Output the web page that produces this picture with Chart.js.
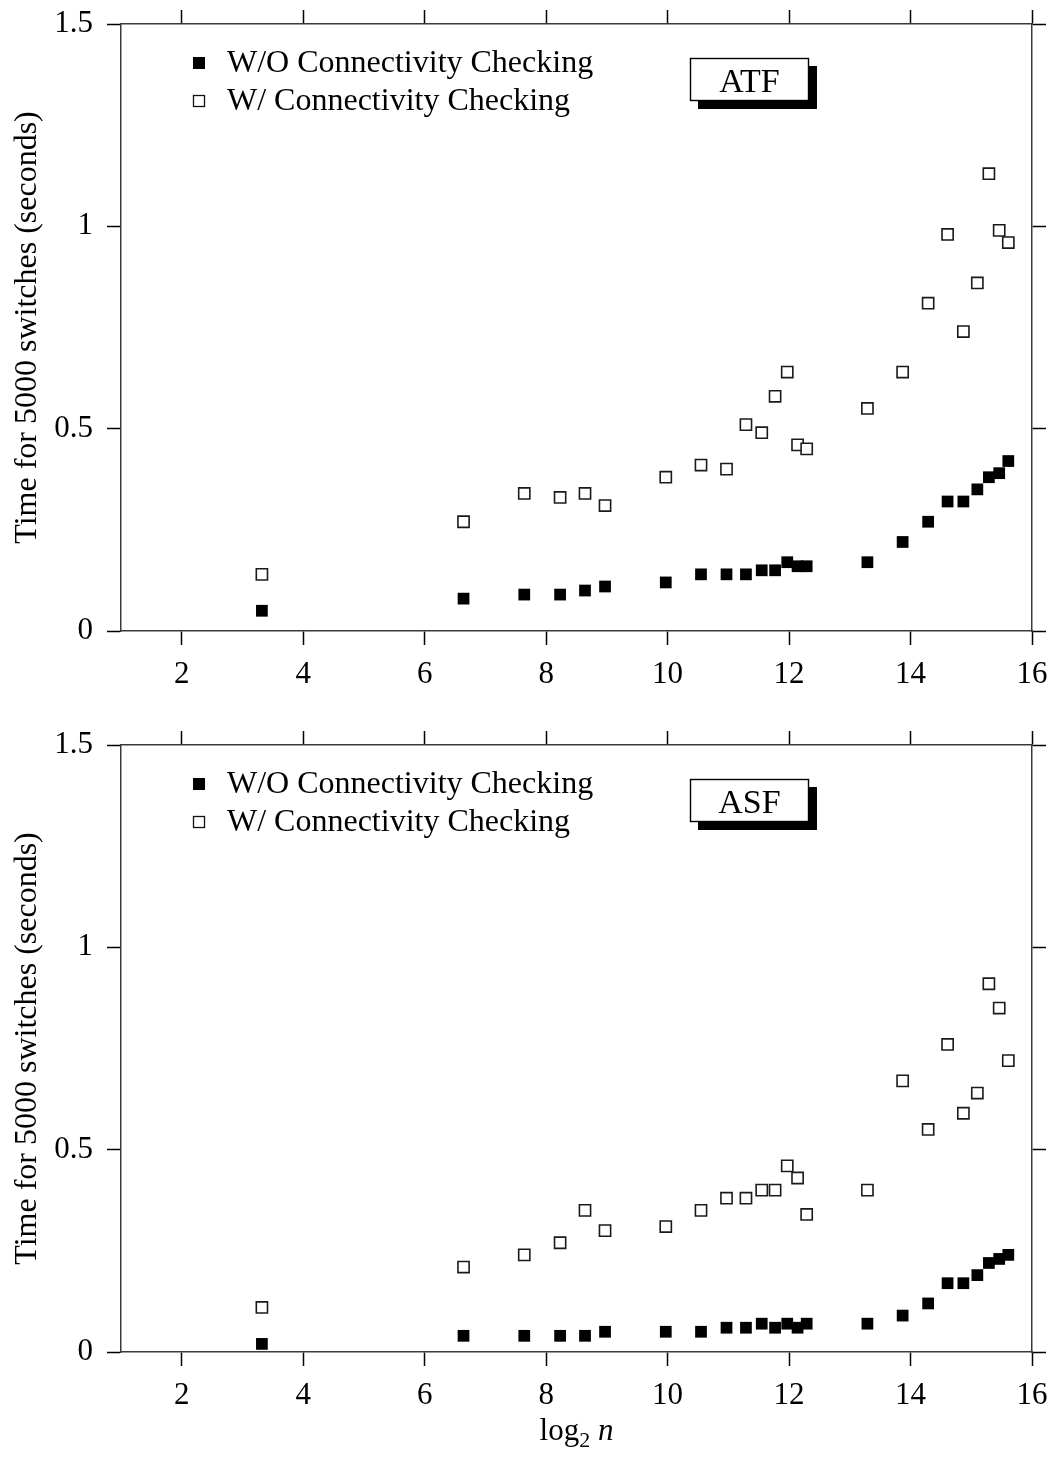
<!DOCTYPE html>
<html>
<head>
<meta charset="utf-8">
<script src="https://cdn.jsdelivr.net/npm/chart.js@4/dist/chart.umd.min.js"></script>
<style>
html, body { margin: 0; padding: 0; background: #fff; }
#wrap { position: relative; width: 1055px; height: 1457px; overflow: hidden; }
.panel { position: absolute; left: 0; width: 1055px; }
</style>
</head>
<body>
<div id="wrap">
  <div class="panel" style="top:0;height:721px"><canvas id="c1"></canvas></div>
  <div class="panel" style="top:721px;height:736px"><canvas id="c2"></canvas></div>
</div>
<script>
// ---- data ----
const log2n = [3.32, 6.64, 7.64, 8.23, 8.64, 8.97, 9.97, 10.55, 10.97, 11.29, 11.55, 11.77,
               11.97, 12.14, 12.29, 13.29, 13.87, 14.29, 14.61, 14.87, 15.10, 15.29, 15.46, 15.61];
const atfWithout = [0.05, 0.08, 0.09, 0.09, 0.10, 0.11, 0.12, 0.14, 0.14, 0.14, 0.15, 0.15,
                    0.17, 0.16, 0.16, 0.17, 0.22, 0.27, 0.32, 0.32, 0.35, 0.38, 0.39, 0.42];
const atfWith    = [0.14, 0.27, 0.34, 0.33, 0.34, 0.31, 0.38, 0.41, 0.40, 0.51, 0.49, 0.58,
                    0.64, 0.46, 0.45, 0.55, 0.64, 0.81, 0.98, 0.74, 0.86, 1.13, 0.99, 0.96];
const asfWithout = [0.02, 0.04, 0.04, 0.04, 0.04, 0.05, 0.05, 0.05, 0.06, 0.06, 0.07, 0.06,
                    0.07, 0.06, 0.07, 0.07, 0.09, 0.12, 0.17, 0.17, 0.19, 0.22, 0.23, 0.24];
const asfWith    = [0.11, 0.21, 0.24, 0.27, 0.35, 0.30, 0.31, 0.35, 0.38, 0.38, 0.40, 0.40,
                    0.46, 0.43, 0.34, 0.40, 0.67, 0.55, 0.76, 0.59, 0.64, 0.91, 0.85, 0.72];
const seriesLabels = ['W/O Connectivity Checking', 'W/ Connectivity Checking'];
const panelNames = ['ATF', 'ASF'];
const xTickValues = [2, 4, 6, 8, 10, 12, 14, 16];
const yTickValues = [0, 0.5, 1, 1.5];
const yTitleText = 'Time for 5000 switches (seconds)';
const xTitleParts = ['log', '2', 'n'];

// ---- styling ----
const SERIF = '"Liberation Serif", "Times New Roman", serif';
const TICK_FONT = { family: SERIF, size: 31 };
const BORDER = { display: true, color: '#3a3a3a', width: 1.5 };
const GRID_OUT = { drawOnChartArea: false, drawTicks: true, tickLength: 14, tickColor: '#000', tickWidth: 1.5 };

function setTicks(values) {
  return function (scale) { scale.ticks = values.map(v => ({ value: v })); };
}
function fixBox(prop, size) {
  return function (s) {
    s[prop] = size;
    s.paddingTop = 0; s.paddingBottom = 0; s.paddingLeft = 0; s.paddingRight = 0;
  };
}

const overlayPlugin = {
  id: 'overlay',
  afterDraw(chart, args, opts) {
    const ctx = chart.ctx;
    ctx.save();
    // legend inside the plot
    const lx = 199, ly = [63, 101];
    ctx.font = '32px ' + SERIF;
    ctx.textBaseline = 'alphabetic';
    ctx.textAlign = 'left';
    chart.data.datasets.forEach((ds, i) => {
      const s = 12;
      if (i === 0) {
        ctx.fillStyle = '#000';
        ctx.fillRect(lx - s / 2, ly[i] - s / 2, s, s);
      } else {
        ctx.fillStyle = '#fff';
        ctx.fillRect(lx - s / 2, ly[i] - s / 2, s, s);
        ctx.strokeStyle = '#111';
        ctx.lineWidth = 1.3;
        ctx.strokeRect(lx - s / 2 + 0.5, ly[i] - s / 2 + 0.5, s - 1, s - 1);
      }
      ctx.fillStyle = '#000';
      ctx.fillText(ds.label, 227, ly[i] + 9);
    });
    // name box with shadow
    const bx = 690, by = 58, bw = 119, bh = 43, sh = 8;
    ctx.fillStyle = '#000';
    ctx.fillRect(bx + sh, by + sh, bw, bh);
    ctx.fillStyle = '#fff';
    ctx.fillRect(bx, by, bw, bh);
    ctx.strokeStyle = '#000';
    ctx.lineWidth = 1.4;
    ctx.strokeRect(bx + 0.5, by + 0.5, bw - 1, bh - 1);
    ctx.fillStyle = '#000';
    ctx.font = '34px ' + SERIF;
    ctx.textAlign = 'center';
    ctx.fillText(opts.name, bx + bw / 2, by + 34);
    // x axis title (bottom panel only)
    if (opts.showXTitle) {
      const f1 = '31px ' + SERIF, f2 = '22px ' + SERIF, f3 = 'italic 31px ' + SERIF;
      ctx.textAlign = 'left';
      ctx.font = f1; const w1 = ctx.measureText(xTitleParts[0]).width;
      ctx.font = f2; const w2 = ctx.measureText(xTitleParts[1]).width;
      ctx.font = f1; const wsp = ctx.measureText(' ').width;
      ctx.font = f3; const w3 = ctx.measureText(xTitleParts[2]).width;
      const total = w1 + w2 + wsp + w3;
      const cx = (chart.chartArea.left + chart.chartArea.right) / 2;
      let x = cx - total / 2;
      const base = 719;
      ctx.font = f1; ctx.fillText(xTitleParts[0], x, base); x += w1;
      ctx.font = f2; ctx.fillText(xTitleParts[1], x, base + 7); x += w2 + wsp;
      ctx.font = f3; ctx.fillText(xTitleParts[2], x, base);
    }
    ctx.restore();
  }
};

function makePanel(canvasId, withoutVals, withVals, name, xAxisHeight, showXTitle) {
  return new Chart(document.getElementById(canvasId), {
    type: 'scatter',
    data: {
      datasets: [
        {
          label: seriesLabels[0],
          data: log2n.map((x, i) => ({ x: x, y: withoutVals[i] })),
          pointStyle: 'rect',
          pointRadius: 8.3,
          pointHoverRadius: 8.3,
          backgroundColor: '#000',
          borderColor: '#000',
          borderWidth: 0
        },
        {
          label: seriesLabels[1],
          data: log2n.map((x, i) => ({ x: x, y: withVals[i] })),
          pointStyle: 'rect',
          pointRadius: 7.9,
          pointHoverRadius: 7.9,
          backgroundColor: '#fff',
          borderColor: '#1a1a1a',
          borderWidth: 1.6
        }
      ]
    },
    options: {
      responsive: true,
      maintainAspectRatio: false,
      animation: false,
      events: [],
      layout: { padding: 0 },
      plugins: {
        legend: { display: false },
        tooltip: { enabled: false },
        title: { display: false },
        overlay: { name: name, showXTitle: showXTitle }
      },
      scales: {
        x: {
          type: 'linear', position: 'bottom', min: 1, max: 16,
          afterBuildTicks: setTicks(xTickValues),
          afterFit: fixBox('height', xAxisHeight),
          grid: GRID_OUT, border: BORDER,
          ticks: { font: TICK_FONT, color: '#000', padding: 11, autoSkip: false, maxRotation: 0 }
        },
        x2: {
          axis: 'x', type: 'linear', position: 'top', min: 1, max: 16,
          afterBuildTicks: setTicks(xTickValues),
          afterFit: fixBox('height', 24),
          grid: GRID_OUT, border: BORDER,
          ticks: { display: false, autoSkip: false }
        },
        y: {
          type: 'linear', position: 'left', min: 0, max: 1.5,
          afterBuildTicks: setTicks(yTickValues),
          afterFit: fixBox('width', 121),
          grid: GRID_OUT, border: BORDER,
          ticks: { font: TICK_FONT, color: '#000', padding: 14, autoSkip: false,
                   callback: v => String(v) },
          title: { display: true, text: yTitleText, color: '#000',
                   font: { family: SERIF, size: 32 }, padding: { top: 8, bottom: 0 } }
        },
        y2: {
          axis: 'y', type: 'linear', position: 'right', min: 0, max: 1.5,
          afterBuildTicks: setTicks(yTickValues),
          afterFit: fixBox('width', 23),
          grid: GRID_OUT, border: BORDER,
          ticks: { display: false, autoSkip: false }
        }
      }
    },
    plugins: [overlayPlugin]
  });
}

makePanel('c1', atfWithout, atfWith, panelNames[0], 90, false);
makePanel('c2', asfWithout, asfWith, panelNames[1], 105, true);
</script>
</body>
</html>
